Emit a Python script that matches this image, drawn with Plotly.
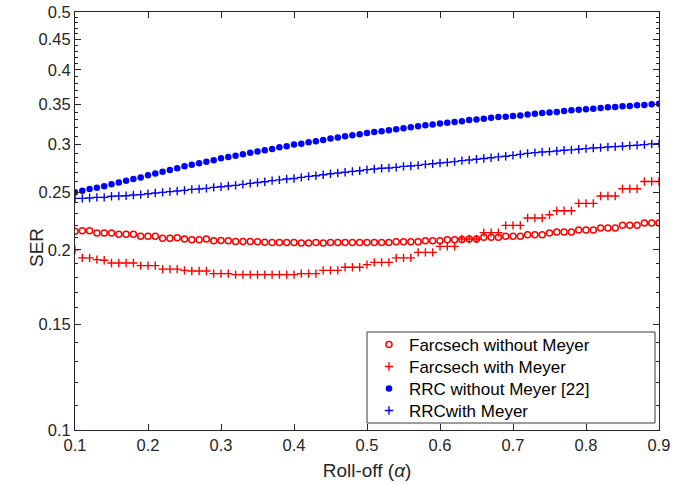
import plotly.graph_objects as go

# Roll-off factor grid (0.10 ... 0.90, step 0.01)
alpha = [round(0.10 + 0.01 * i, 2) for i in range(81)]

# Symbol error rate, Farcsech pulse without Meyer filter
ser_farc_plain = [
    0.2149, 0.2154, 0.2154, 0.2135, 0.2135, 0.2135, 0.2124, 0.2124, 0.2124, 0.2108,
    0.2108, 0.2108, 0.2092, 0.2092, 0.2097, 0.2086, 0.2080, 0.2080, 0.2086, 0.2073,
    0.2075, 0.2073, 0.2067, 0.2067, 0.2067, 0.2064, 0.2061, 0.2059, 0.2059, 0.2059,
    0.2059, 0.2054, 0.2054, 0.2059, 0.2054, 0.2059, 0.2059, 0.2059, 0.2059, 0.2059,
    0.2059, 0.2059, 0.2059, 0.2059, 0.2064, 0.2064, 0.2064, 0.2064, 0.2073, 0.2073,
    0.2073, 0.2080, 0.2080, 0.2083, 0.2086, 0.2086, 0.2100, 0.2100, 0.2100, 0.2108,
    0.2108, 0.2108, 0.2121, 0.2121, 0.2121, 0.2135, 0.2143, 0.2143, 0.2143, 0.2160,
    0.2160, 0.2160, 0.2177, 0.2177, 0.2177, 0.2199, 0.2199, 0.2199, 0.2219, 0.2219,
    0.2219,
]

# Symbol error rate, Farcsech pulse with Meyer filter
ser_farc_meyer = [
    0.2002, 0.1940, 0.1940, 0.1927, 0.1922, 0.1902, 0.1902, 0.1902, 0.1902, 0.1883,
    0.1883, 0.1883, 0.1858, 0.1858, 0.1858, 0.1849, 0.1845, 0.1845, 0.1845, 0.1826,
    0.1826, 0.1826, 0.1819, 0.1819, 0.1819, 0.1819, 0.1819, 0.1819, 0.1819, 0.1819,
    0.1819, 0.1826, 0.1826, 0.1826, 0.1849, 0.1849, 0.1849, 0.1871, 0.1871, 0.1871,
    0.1890, 0.1907, 0.1907, 0.1907, 0.1940, 0.1940, 0.1940, 0.1982, 0.1982, 0.1982,
    0.2028, 0.2028, 0.2028, 0.2086, 0.2086, 0.2086, 0.2138, 0.2138, 0.2138, 0.2199,
    0.2199, 0.2199, 0.2262, 0.2262, 0.2262, 0.2291, 0.2326, 0.2326, 0.2326, 0.2393,
    0.2393, 0.2393, 0.2462, 0.2462, 0.2462, 0.2532, 0.2532, 0.2532, 0.2604, 0.2604,
    0.2604,
]

# Symbol error rate, RRC pulse without Meyer filter
ser_rrc_plain = [
    0.2497, 0.2513, 0.2529, 0.2542, 0.2555, 0.2575, 0.2594, 0.2611, 0.2628, 0.2645,
    0.2666, 0.2686, 0.2704, 0.2721, 0.2739, 0.2760, 0.2778, 0.2792, 0.2810, 0.2825,
    0.2846, 0.2861, 0.2876, 0.2891, 0.2909, 0.2921, 0.2936, 0.2951, 0.2970, 0.2982,
    0.3001, 0.3012, 0.3028, 0.3039, 0.3055, 0.3071, 0.3083, 0.3099, 0.3111, 0.3123,
    0.3139, 0.3151, 0.3159, 0.3171, 0.3184, 0.3196, 0.3208, 0.3221, 0.3233, 0.3242,
    0.3254, 0.3263, 0.3275, 0.3284, 0.3298, 0.3306, 0.3315, 0.3328, 0.3336, 0.3341,
    0.3349, 0.3358, 0.3371, 0.3380, 0.3389, 0.3397, 0.3402, 0.3415, 0.3424, 0.3433,
    0.3437, 0.3446, 0.3455, 0.3464, 0.3468, 0.3477, 0.3482, 0.3491, 0.3495, 0.3504,
    0.3513,
]

# Symbol error rate, RRC pulse with Meyer filter
ser_rrc_meyer = [
    0.2440, 0.2440, 0.2443, 0.2449, 0.2449, 0.2459, 0.2462, 0.2465, 0.2471, 0.2475,
    0.2484, 0.2491, 0.2497, 0.2504, 0.2510, 0.2516, 0.2526, 0.2529, 0.2535, 0.2545,
    0.2552, 0.2558, 0.2565, 0.2575, 0.2585, 0.2594, 0.2601, 0.2612, 0.2620, 0.2628,
    0.2634, 0.2645, 0.2655, 0.2662, 0.2672, 0.2683, 0.2690, 0.2697, 0.2707, 0.2714,
    0.2725, 0.2732, 0.2739, 0.2742, 0.2749, 0.2760, 0.2763, 0.2770, 0.2781, 0.2788,
    0.2795, 0.2802, 0.2810, 0.2821, 0.2828, 0.2836, 0.2845, 0.2853, 0.2862, 0.2870,
    0.2879, 0.2890, 0.2901, 0.2909, 0.2916, 0.2921, 0.2928, 0.2936, 0.2940, 0.2947,
    0.2955, 0.2962, 0.2966, 0.2974, 0.2978, 0.2982, 0.2989, 0.2993, 0.3001, 0.3009,
    0.3012,
]

x_ticks = [0.1, 0.2, 0.3, 0.4, 0.5, 0.6, 0.7, 0.8, 0.9]
x_ticklabels = ["0.1", "0.2", "0.3", "0.4", "0.5", "0.6", "0.7", "0.8", "0.9"]
y_ticks = [0.1, 0.15, 0.2, 0.25, 0.3, 0.35, 0.4, 0.45, 0.5]
y_ticklabels = ["0.1", "0.15", "0.2", "0.25", "0.3", "0.35", "0.4", "0.45", "0.5"]
y_minor = [round(0.1 + 0.01 * i, 2) for i in range(41)]
y_minor = [v for v in y_minor if v not in y_ticks]

FONT = "Liberation Sans, Arial, Helvetica, sans-serif"
INK = "#262626"
RED = "#FF0000"
BLUE = "#0000FF"

fig = go.Figure()

series = [
    ("Farcsech without Meyer", ser_farc_plain,
     dict(symbol="circle-open", size=6, color=RED, line=dict(color=RED, width=1.5)), "legend"),
    ("Farcsech with Meyer", ser_farc_meyer,
     dict(symbol="cross-thin-open", size=6, color=RED, line=dict(color=RED, width=1.4)), "legend2"),
    ("RRC without Meyer [22]", ser_rrc_plain,
     dict(symbol="circle", size=6.5, color=BLUE, line=dict(width=0)), "legend3"),
    ("RRCwith Meyer", ser_rrc_meyer,
     dict(symbol="cross-thin-open", size=6, color=BLUE, line=dict(color=BLUE, width=1.4)), "legend4"),
]

for name, ys, marker, leg in series:
    fig.add_trace(go.Scatter(
        x=alpha, y=ys, mode="markers", name=name, marker=marker,
        legend=leg, showlegend=True,
    ))

# Plot area in pixels: x 75..659, y 12..430
L, R, T, B = 75, 26, 12, 55
W, H = 685, 485
pw, ph = W - L - R, H - T - B


def px_x(p):
    return (p - L) / pw


def px_y(p):
    return (H - B - p) / ph


legend_common = dict(
    bgcolor="rgba(0,0,0,0)", borderwidth=0,
    font=dict(family=FONT, size=17, color="#000000"),
    xanchor="left", yanchor="middle",
)
legend_rows = [345, 367, 389, 411]
legends = {}
for i, row in enumerate(legend_rows):
    key = "legend" if i == 0 else f"legend{i + 1}"
    legends[key] = dict(legend_common, x=px_x(369), y=px_y(row))

fig.update_layout(
    width=W, height=H,
    margin=dict(l=L, r=R, t=T, b=B, pad=0, autoexpand=False),
    paper_bgcolor="white", plot_bgcolor="white",
    font=dict(family=FONT, size=16.5, color=INK),
    shapes=[dict(
        type="rect", xref="paper", yref="paper",
        x0=px_x(367), x1=px_x(655), y0=px_y(423), y1=px_y(332),
        line=dict(color="#3a3a3a", width=1), fillcolor="white", layer="above",
    )],
    annotations=[dict(
        text="SER", xref="paper", yref="paper", x=px_x(36), y=px_y(248),
        xanchor="center", yanchor="middle", textangle=-90, showarrow=False,
        font=dict(family=FONT, size=19, color=INK),
    )],
    **legends,
)

fig.update_xaxes(
    range=[0.1, 0.9], tickvals=x_ticks, ticktext=x_ticklabels,
    ticks="inside", ticklen=6, tickwidth=1, tickcolor=INK,
    showline=True, linecolor=INK, linewidth=1, mirror="ticks",
    showgrid=False, zeroline=False, automargin=False,
    tickfont=dict(family=FONT, size=16.5, color=INK),
    title=dict(text="Roll-off (<i>α</i>)", standoff=10,
               font=dict(family=FONT, size=19, color=INK)),
)

fig.update_yaxes(
    type="log", range=[-1, -0.30103], tickvals=y_ticks, ticktext=y_ticklabels,
    ticks="inside", ticklen=6, tickwidth=1, tickcolor=INK,
    minor=dict(tickvals=y_minor, ticks="inside", ticklen=3, tickwidth=1, tickcolor=INK,
               showgrid=False),
    showline=True, linecolor=INK, linewidth=1, mirror="ticks",
    showgrid=False, zeroline=False, automargin=False,
    tickfont=dict(family=FONT, size=16.5, color=INK),
)

fig.write_html("out.html")
